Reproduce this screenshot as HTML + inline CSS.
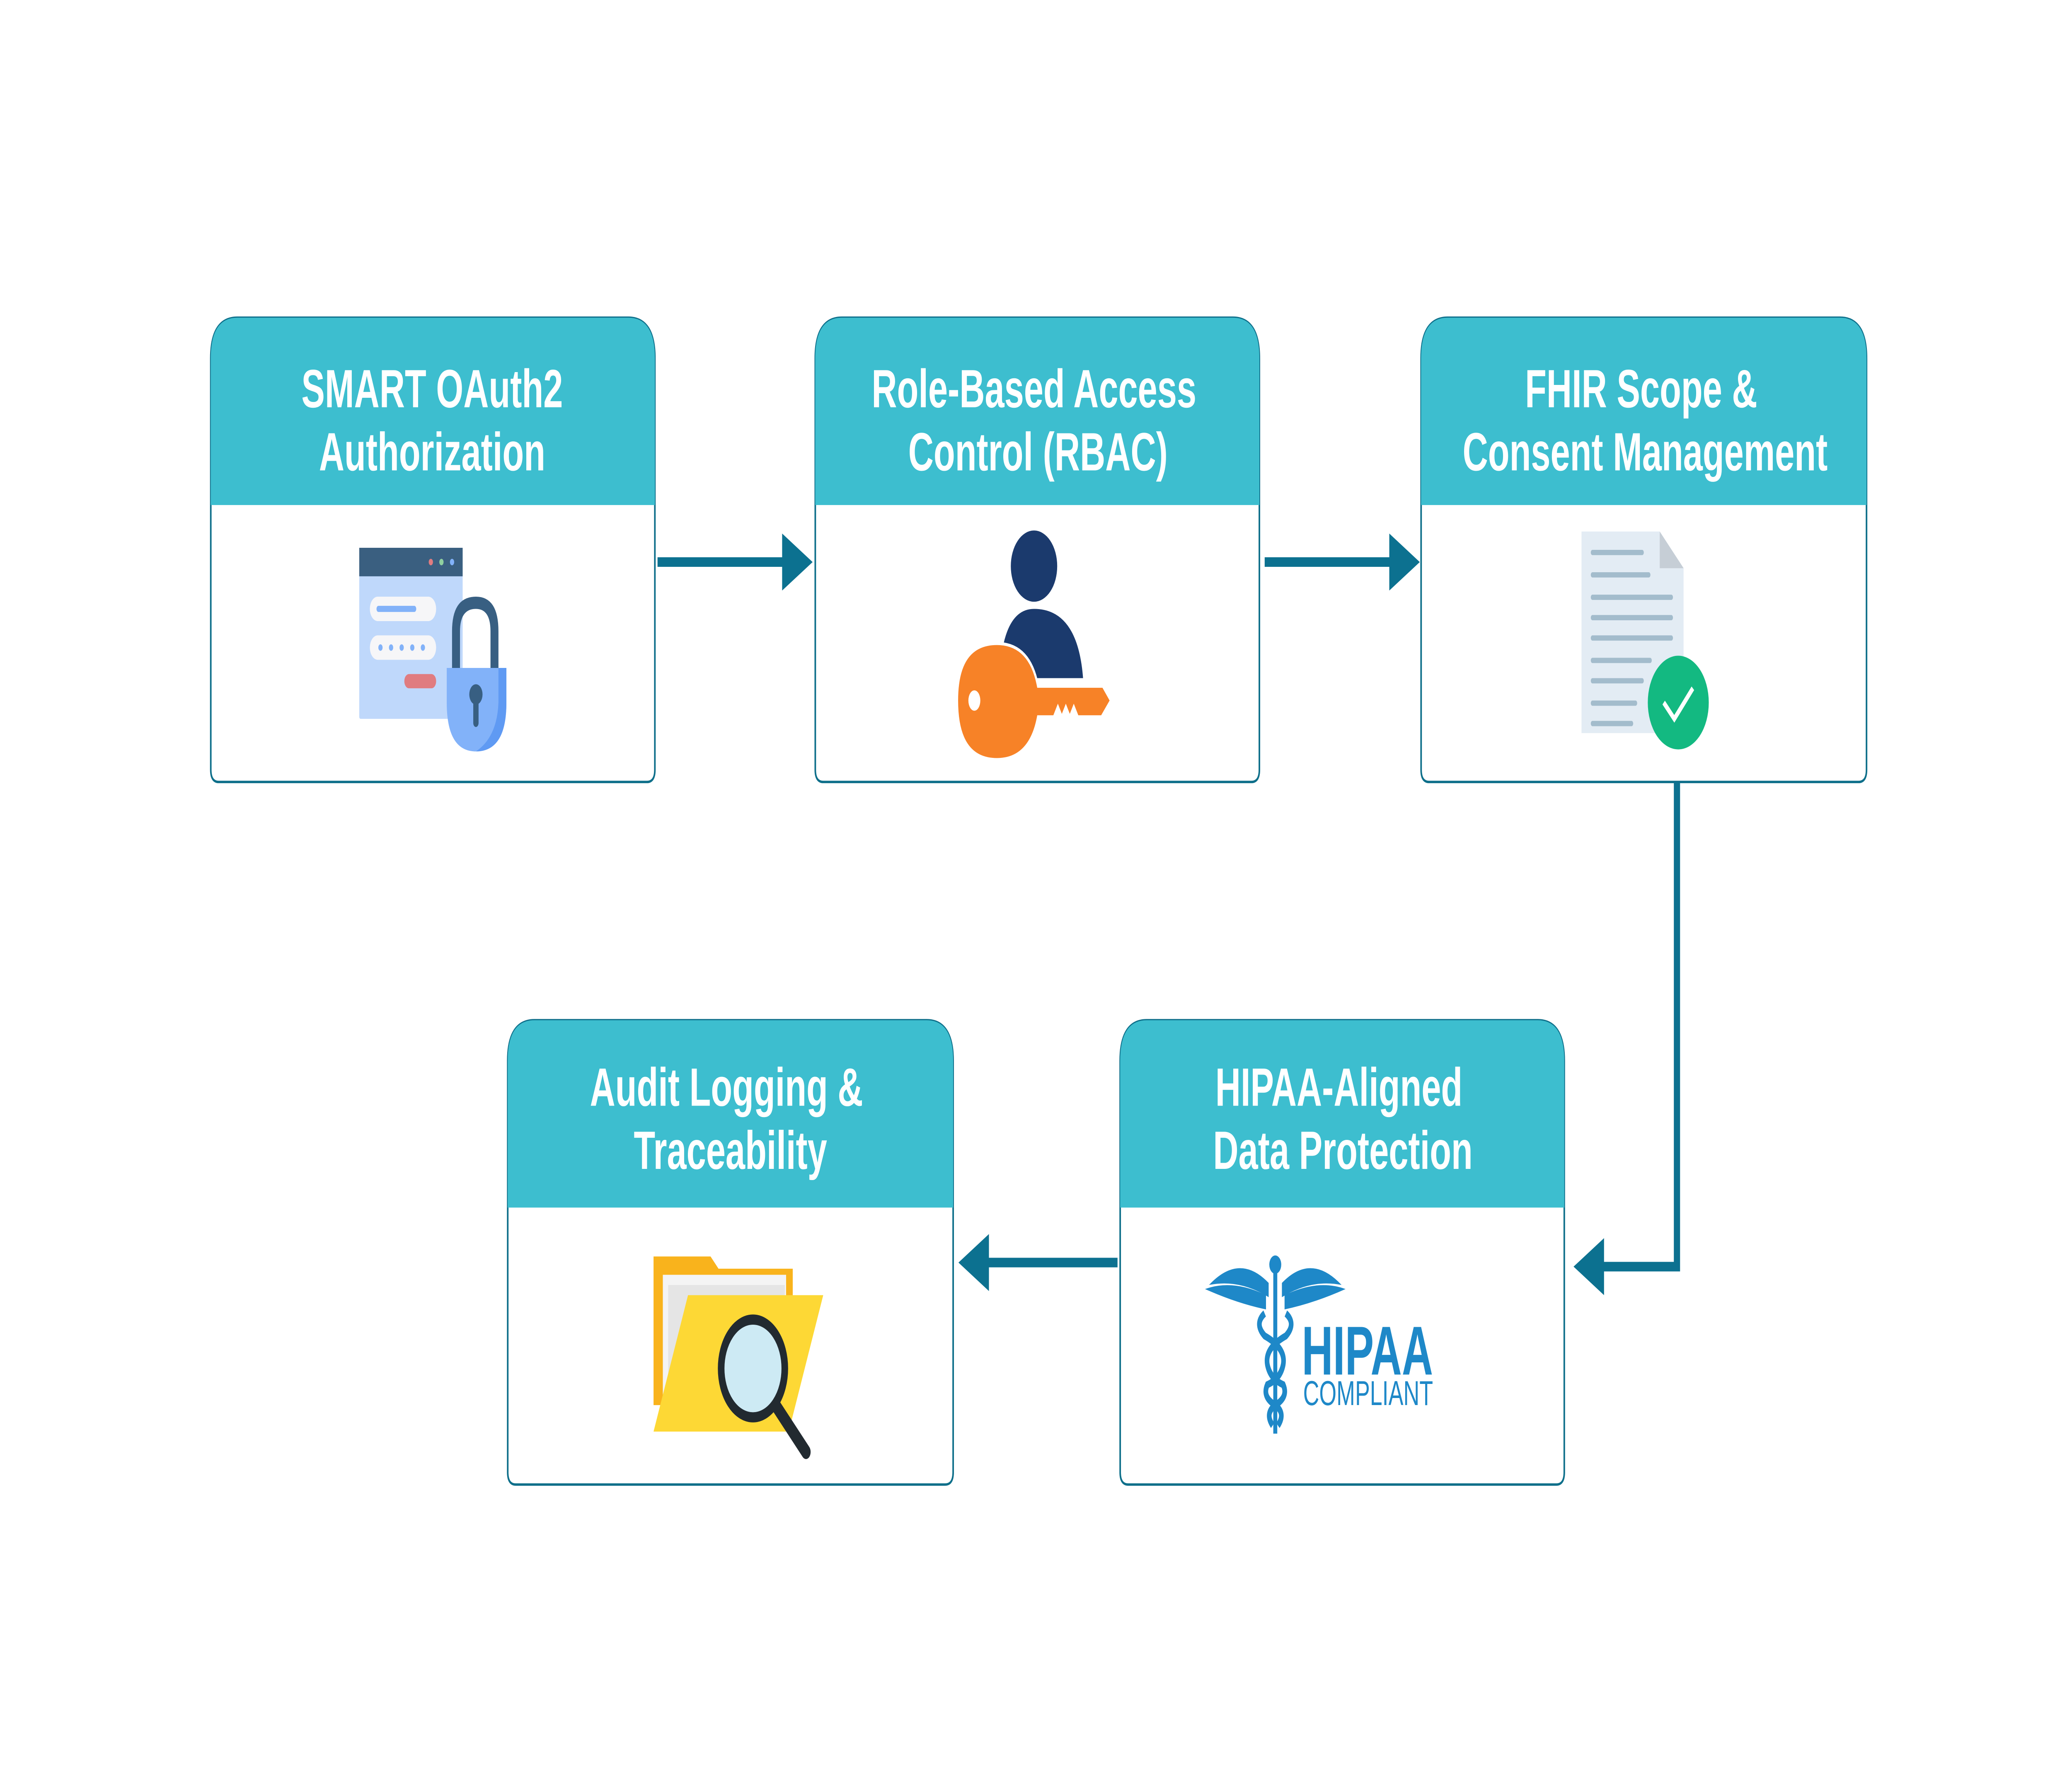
<!DOCTYPE html>
<html><head><meta charset="utf-8">
<style>
html,body{margin:0;padding:0;background:#fff;width:100%;height:100%;overflow:hidden;}
svg{display:block;width:100vw;height:100vh;}
text{font-family:"Liberation Sans",Arial,sans-serif;}
</style></head>
<body>
<svg viewBox="0 0 1563 879" preserveAspectRatio="none" xmlns="http://www.w3.org/2000/svg">
<rect width="1563" height="879" fill="#fff"/>
<g stroke="#0e6f8a" stroke-width="1.2">
<path d="M159,176 Q159,156 179,156 H474 Q494,156 494,176 V378 Q494,384 488,384 H165 Q159,384 159,378 Z" fill="#fff"/>
<path d="M615,176 Q615,156 635,156 H930 Q950,156 950,176 V378 Q950,384 944,384 H621 Q615,384 615,378 Z" fill="#fff"/>
<path d="M1072,176 Q1072,156 1092,156 H1388 Q1408,156 1408,176 V378 Q1408,384 1402,384 H1078 Q1072,384 1072,378 Z" fill="#fff"/>
<path d="M383,521 Q383,501 403,501 H699 Q719,501 719,521 V723 Q719,729 713,729 H389 Q383,729 383,723 Z" fill="#fff"/>
<path d="M845,521 Q845,501 865,501 H1160 Q1180,501 1180,521 V723 Q1180,729 1174,729 H851 Q845,729 845,723 Z" fill="#fff"/>
</g>
<g fill="#3dbecf">
<path d="M159,176 Q159,156 179,156 H474 Q494,156 494,176 V248 H159 Z"/>
<path d="M615,176 Q615,156 635,156 H930 Q950,156 950,176 V248 H615 Z"/>
<path d="M1072,176 Q1072,156 1092,156 H1388 Q1408,156 1408,176 V248 H1072 Z"/>
<path d="M383,521 Q383,501 403,501 H699 Q719,501 719,521 V593 H383 Z"/>
<path d="M845,521 Q845,501 865,501 H1160 Q1180,501 1180,521 V593 H845 Z"/>
</g>
<g fill="#fff" font-weight="bold" font-size="26.5" text-anchor="middle">
<text x="326" y="200">SMART OAuth2</text><text x="326" y="231">Authorization</text>
<text x="780" y="200">Role-Based Access</text><text x="783" y="231">Control (RBAC)</text>
<text x="1238" y="200">FHIR Scope &amp;</text><text x="1241" y="231">Consent Management</text>
<text x="548" y="543">Audit Logging &amp;</text><text x="551" y="574">Traceability</text>
<text x="1010" y="543">HIPAA-Aligned</text><text x="1013" y="574">Data Protection</text>
</g>
<g stroke="#0c7190" stroke-width="4.7" fill="none">
<line x1="496" y1="276" x2="592" y2="276"/>
<line x1="954" y1="276" x2="1050" y2="276"/>
<polyline points="1265,384 1265,622 1208,622"/>
<line x1="843" y1="620" x2="744" y2="620"/>
</g>
<g fill="#0c7190">
<polygon points="590,262 613,276 590,290"/>
<polygon points="1048,262 1071,276 1048,290"/>
<polygon points="1210,608 1187,622 1210,636"/>
<polygon points="746,606 723,620 746,634"/>
</g>
<rect x="271" y="269" width="78" height="84" fill="#bfd8fb" rx="1"/>
<rect x="271" y="269" width="78" height="14" fill="#3a5f80"/>
<circle cx="325" cy="276" r="1.6" fill="#e07c80"/><circle cx="333" cy="276" r="1.6" fill="#8fd0a0"/><circle cx="341" cy="276" r="1.6" fill="#82b2f9"/>
<rect x="279" y="293" width="50" height="12" rx="6" fill="#f6f6f8"/>
<rect x="284" y="297.5" width="30" height="3" rx="1.5" fill="#82b2f9"/>
<rect x="279" y="312" width="50" height="12" rx="6" fill="#f6f6f8"/>
<g fill="#82b2f9"><circle cx="287" cy="318" r="1.6"/><circle cx="295" cy="318" r="1.6"/><circle cx="303" cy="318" r="1.6"/><circle cx="311" cy="318" r="1.6"/><circle cx="319" cy="318" r="1.6"/></g>
<rect x="305" y="331" width="24" height="7" rx="3.5" fill="#e07c80"/>
<path d="M341,328 V310 Q341,293 359,293 Q376,293 376,310 V328 H370 V310 Q370,299 359,299 Q347,299 347,310 V328 Z" fill="#385f82"/>
<path d="M337,328 H382 V345 Q382,369 359,369 Q337,369 337,345 Z" fill="#82b2f9"/>
<path d="M376,328 H382 V345 Q382,369 359,369 Q375,362 376,345 Z" fill="#5f9af3"/>
<circle cx="359" cy="341" r="5" fill="#385f82"/><rect x="357" y="341" width="4" height="16" rx="2" fill="#385f82"/>
<circle cx="780" cy="278" r="17.5" fill="#1b3a6d"/>
<path d="M754,333 Q756,299 780,299 Q813,299 817,333 Z" fill="#1b3a6d"/>
<path d="M752,316 Q722,316 722,344 Q722,373 752,373 Q777,373 783,352 H795 L798,347 L801,352 L804,347 L807,352 L810,347 L813,352 L831,352 L838,344 L832,337 H783 Q777,316 752,316 Z" fill="#f78227" stroke="#fff" stroke-width="1.5"/>
<ellipse cx="735" cy="344" rx="4.5" ry="5" fill="#fff"/>
<path d="M1193,261 H1252 L1270,279 V360 H1193 Z" fill="#e3ecf4"/>
<path d="M1252,261 L1270,279 H1252 Z" fill="#c6ced6"/>
<g fill="#a3bccc">
<rect x="1200" y="270" width="40" height="2.6" rx="1.3"/><rect x="1200" y="281" width="45" height="2.6" rx="1.3"/>
<rect x="1200" y="292" width="62" height="2.6" rx="1.3"/><rect x="1200" y="302" width="62" height="2.6" rx="1.3"/>
<rect x="1200" y="312" width="62" height="2.6" rx="1.3"/><rect x="1200" y="323" width="46" height="2.6" rx="1.3"/>
<rect x="1200" y="333" width="40" height="2.6" rx="1.3"/><rect x="1200" y="344" width="35" height="2.6" rx="1.3"/>
<rect x="1200" y="354" width="32" height="2.6" rx="1.3"/>
</g>
<circle cx="1266" cy="345" r="23" fill="#13b981"/>
<polyline points="1255,345 1263,353 1277,338" fill="none" stroke="#fff" stroke-width="2.6"/>
<path d="M493,617 H536 L542,623 H598 V690 H493 Z" fill="#f9b31c"/>
<rect x="500" y="626" width="93" height="60" fill="#f4f4f4"/>
<rect x="504" y="631" width="88" height="55" fill="#e5e5e5"/>
<path d="M493,703 L519,636 H621 L595,703 Z" fill="#fdd835"/>
<line x1="585" y1="690" x2="608" y2="713" stroke="#222a30" stroke-width="7" stroke-linecap="round"/>
<circle cx="568" cy="672" r="24" fill="#cdeaf4" stroke="#222a30" stroke-width="5"/>
<g fill="#1e88c8">
<circle cx="962" cy="621" r="4.5"/>
<rect x="960.5" y="624" width="3" height="80"/>
<path d="M957,630 Q935,615 912,631 Q935,628 957,637 Z"/>
<path d="M955,636 Q930,628 909,633 Q933,640 955,643 Z"/>
<path d="M967,630 Q989,615 1012,631 Q989,628 967,637 Z"/>
<path d="M969,636 Q994,628 1015,633 Q991,640 969,643 Z"/>
</g>
<g fill="none" stroke="#1e88c8" stroke-width="3.5">
<path d="M970,645 Q978,650 970,656 Q954,662 956,670 Q958,677 968,680 Q972,686 962,690 Q954,694 960,700"/>
<path d="M954,645 Q946,650 954,656 Q970,662 968,670 Q966,677 956,680 Q952,686 962,690 Q970,694 964,700"/>
</g>
<text x="982" y="675" font-size="34" font-weight="bold" fill="#1e88c8" textLength="99" lengthAdjust="spacingAndGlyphs">HIPAA</text>
<text x="983" y="690" font-size="17" fill="#1e88c8" textLength="98" lengthAdjust="spacingAndGlyphs">COMPLIANT</text>
</svg>
</body></html>
